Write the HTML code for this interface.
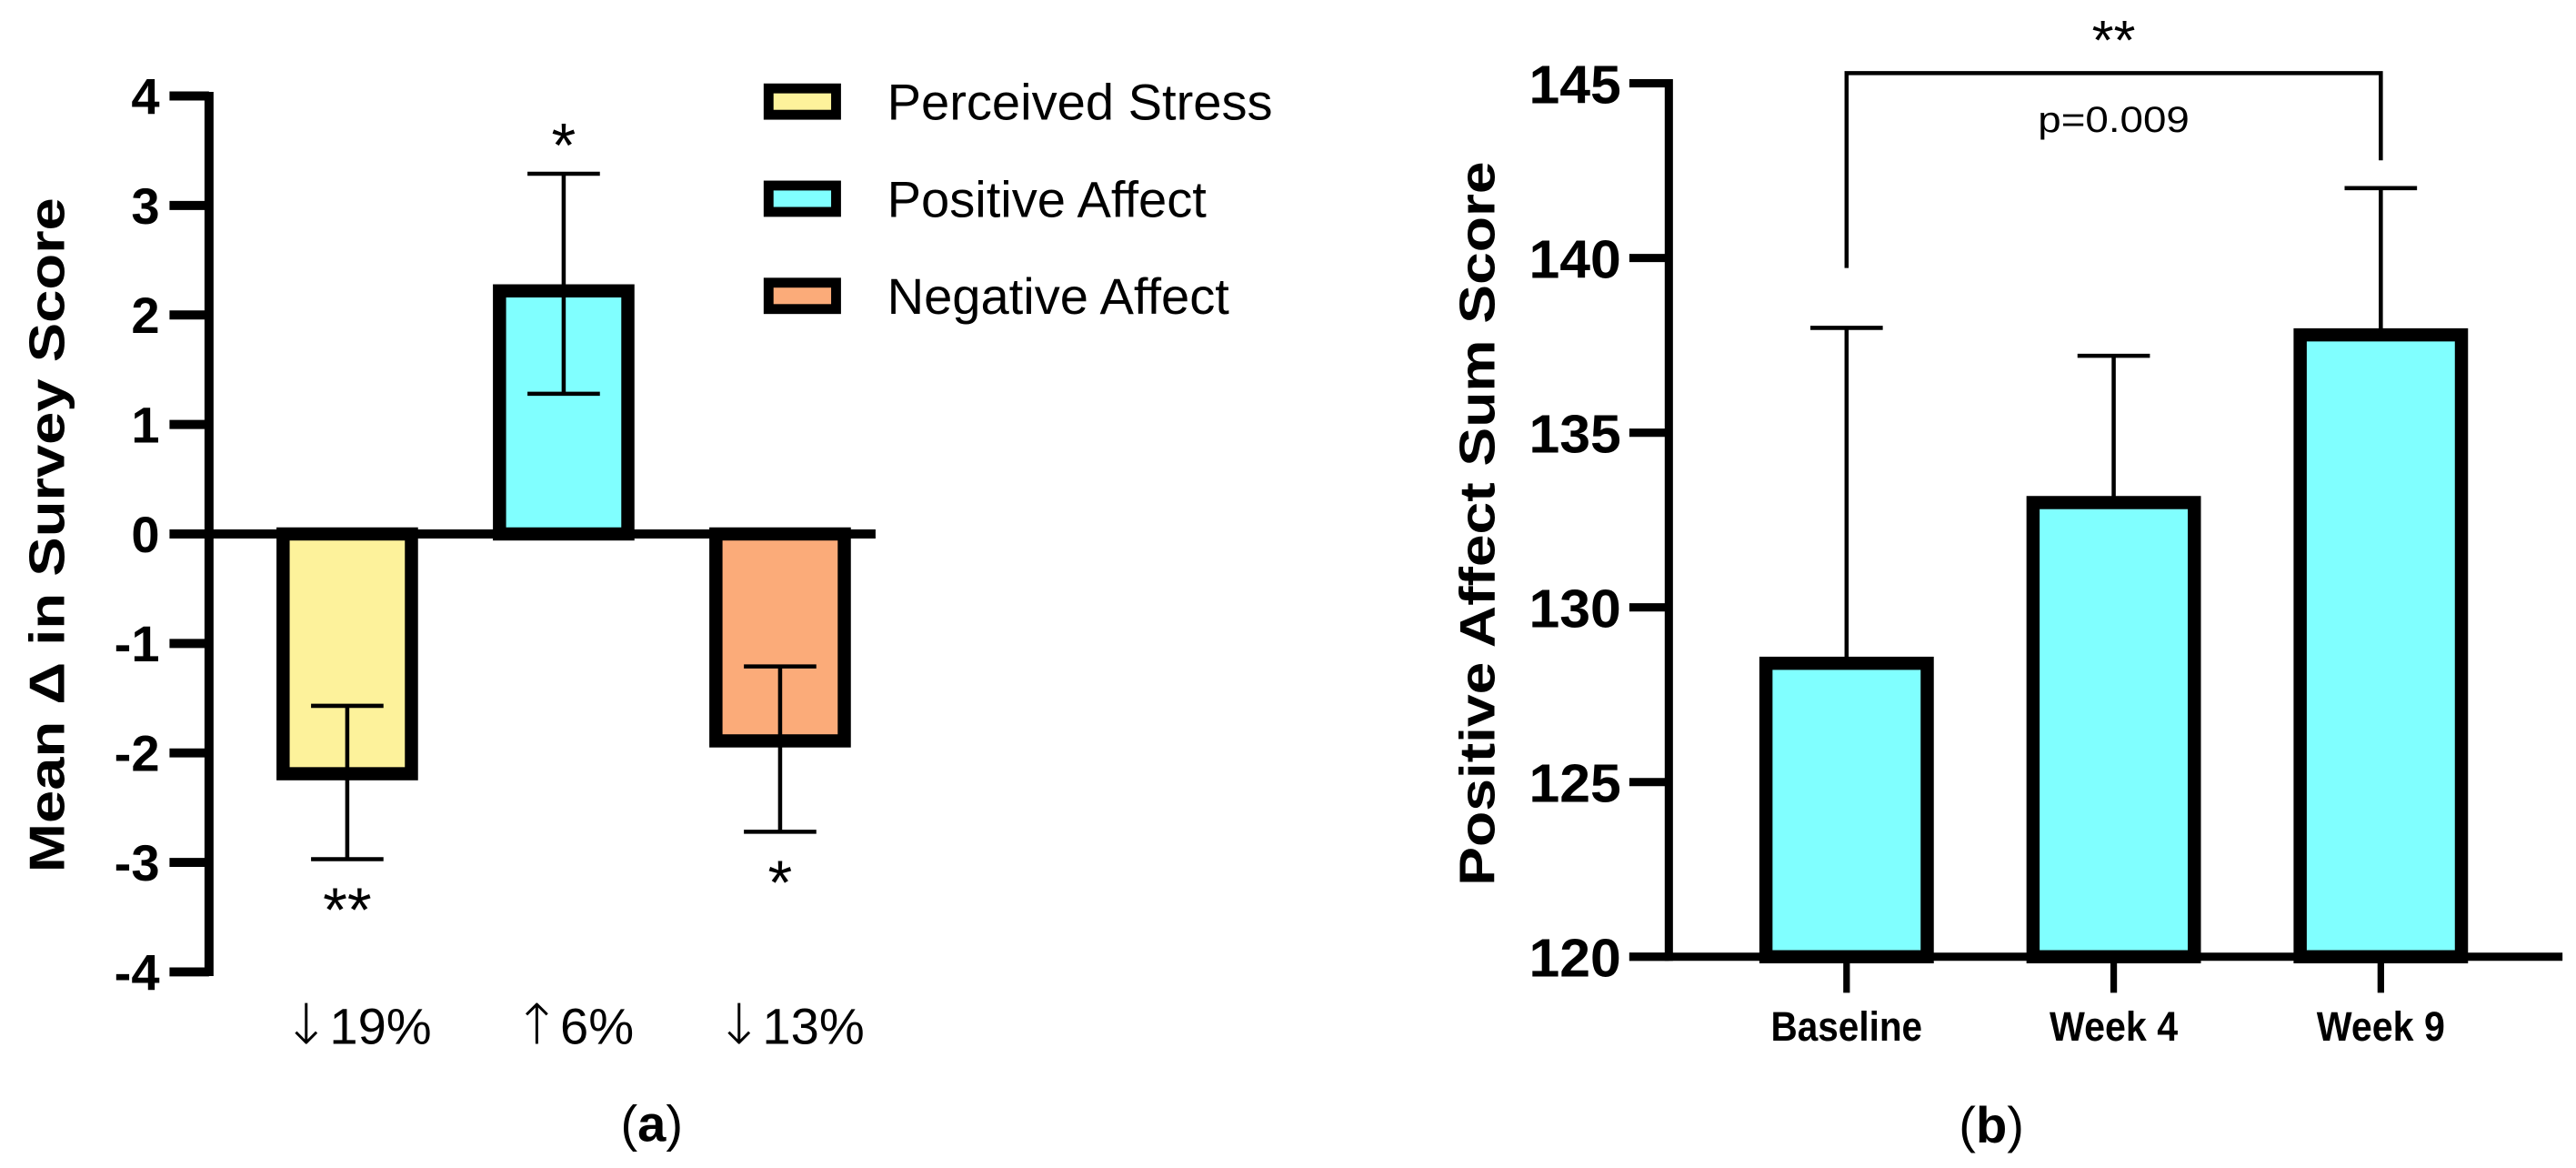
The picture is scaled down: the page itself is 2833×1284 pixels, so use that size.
<!DOCTYPE html>
<html><head><meta charset="utf-8"><style>
html,body{margin:0;padding:0;background:#fff;}
svg{display:block;}
text{font-family:"Liberation Sans",Arial,sans-serif;}
</style></head><body>
<svg id="fig" width="2833" height="1284" viewBox="0 0 1565.2 709.4" preserveAspectRatio="none" xmlns="http://www.w3.org/2000/svg"></svg>
<script>
// ---- Panel (a) data ----
const aCategories = ["Perceived Stress","Positive Affect","Negative Affect"];
const aMeans = [-2.19, 2.22, -1.89];
const aErrHigh = [-1.57, 3.29, -1.21];
const aErrLow = [-2.97, 1.28, -2.72];
const aColors = ["#fdf29b","#80ffff","#fbab79"];
const aSig = ["**","*","*"];
const aArrows = ["\u2193","\u2191","\u2193"];
const aXLabels = ["19%","6%","13%"];
const aTicks = [4,3,2,1,0,-1,-2,-3,-4];
// ---- Panel (b) data ----
const bCategories = ["Baseline","Week 4","Week 9"];
const bMeans = [128.4, 133.0, 137.8];
const bErrTop = [138.0, 137.2, 142.0];
const bTicks = [145,140,135,130,125,120];

const svg = document.getElementById('fig');
const NS = "http://www.w3.org/2000/svg";
function mk(tag, attrs, parent){
  const e = document.createElementNS(NS, tag);
  for (const k in attrs) e.setAttribute(k, attrs[k]);
  (parent||svg).appendChild(e);
  return e;
}
const ayScale = v => 324.3 - v*66.5;
const axCenter = i => 211 + i*131.5;
const byScale = v => 50.6 + (145 - v)*21.22;
const bxCenter = i => 1122 + i*162.3;

// ---- Panel (a) ----
const ga = mk('g', {});


aTicks.forEach(t => {
  const l = mk('line', {x1:103, x2:127, y1:ayScale(t), y2:ayScale(t), stroke:'#000','stroke-width':5.5}, ga);
  
  
  const tx = mk('text', {x:97, y:ayScale(t)+11, 'text-anchor':'end','font-size':31,'font-weight':'bold'}, ga);
  tx.textContent = t;
  
  
});
aMeans.forEach((m,i) => {
  const cx = axCenter(i), w = 78;
  const y0 = ayScale(0), y1 = ayScale(m);
  const r = mk('rect', {x:cx-w/2, y:Math.min(y0,y1), width:w, height:Math.abs(y1-y0), fill:aColors[i], stroke:'#000','stroke-width':8}, ga);
  
  
  const hi = ayScale(aErrHigh[i]), lo = ayScale(aErrLow[i]);
  const eb = mk('path', {d:`M${cx},${hi}V${lo}M${cx-22},${hi}H${cx+22}M${cx-22},${lo}H${cx+22}`, stroke:'#000','stroke-width':2.5, fill:'none'}, ga);
  
  
  const sy = m > 0 ? hi - 4 : lo + 44;
  const s = mk('text', {x:cx, y:sy, 'text-anchor':'middle','font-size':38,'font-family':'DejaVu Sans, sans-serif'}, ga);
  s.textContent = aSig[i];
  
  
  const xl = mk('text', {x:cx+6, y:634, 'text-anchor':'middle','font-size':31}, ga);
  xl.innerHTML = '<tspan font-family="DejaVu Sans, sans-serif" font-size="34" font-weight="200">' + aArrows[i] + '</tspan>' + aXLabels[i];
  
  
});
const ya = mk('line', {x1:127, x2:127, y1:ayScale(4)-2.5, y2:ayScale(-4)+2.5, stroke:'#000','stroke-width':5.5}, ga);


const za = mk('line', {x1:127, x2:532, y1:ayScale(0), y2:ayScale(0), stroke:'#000','stroke-width':5.5}, ga);


const yta = mk('text', {x:0, y:0, transform:'translate(39,325) rotate(-90)', 'text-anchor':'middle','font-size':30,'font-weight':'bold', textLength:410, lengthAdjust:'spacingAndGlyphs'}, ga);
yta.textContent = 'Mean \u0394 in Survey Score';


aCategories.forEach((c,i) => {
  const cy = 61.7 + i*59;
  const g = mk('g', {}, ga);
  
  
  mk('rect', {x:467, y:cy-8, width:41, height:16, fill:aColors[i], stroke:'#000','stroke-width':6}, g);
  const t = mk('text', {x:539, y:cy+11, 'font-size':31}, g);
  t.textContent = c;
});
const pa = mk('text', {x:396, y:693, 'text-anchor':'middle','font-size':31,'font-family':'Liberation Serif, serif'}, ga);
pa.innerHTML = '(<tspan font-weight="bold">a</tspan>)';



// ---- Panel (b) ----
const gb = mk('g', {});


bTicks.forEach(t => {
  const l = mk('line', {x1:990, x2:1014, y1:byScale(t), y2:byScale(t), stroke:'#000','stroke-width':5}, gb);
  
  
  const tx = mk('text', {x:985, y:byScale(t)+12, 'text-anchor':'end','font-size':33,'font-weight':'bold', textLength:56, lengthAdjust:'spacingAndGlyphs'}, gb);
  tx.textContent = t;
  
  
});
const bLabelW = [92, 78, 78];
bMeans.forEach((m,i) => {
  const cx = bxCenter(i), w = 98;
  const y0 = byScale(120), y1 = byScale(m);
  const hi = byScale(bErrTop[i]);
  const eb = mk('path', {d:`M${cx},${y1}V${hi}M${cx-22},${hi}H${cx+22}`, stroke:'#000','stroke-width':2.5, fill:'none'}, gb);
  
  
  const r = mk('rect', {x:cx-w/2, y:y1, width:w, height:y0-y1, fill:'#80ffff', stroke:'#000','stroke-width':8}, gb);
  
  
  const tk = mk('line', {x1:cx, x2:cx, y1:y0, y2:603, stroke:'#000','stroke-width':4}, gb);
  
  
  const xl = mk('text', {x:cx, y:632, 'text-anchor':'middle','font-size':25,'font-weight':'bold', textLength:bLabelW[i], lengthAdjust:'spacingAndGlyphs'}, gb);
  xl.textContent = bCategories[i];
  
  
});
const yb = mk('line', {x1:1014, x2:1014, y1:byScale(145)-2.5, y2:byScale(120)+2.5, stroke:'#000','stroke-width':5}, gb);


const xb = mk('line', {x1:990, x2:1557, y1:byScale(120), y2:byScale(120), stroke:'#000','stroke-width':5}, gb);


const br = mk('path', {d:`M${bxCenter(0)},162.8V44.4H${bxCenter(2)}V97.4`, stroke:'#000','stroke-width':2.5, fill:'none'}, gb);


const st = mk('text', {x:(bxCenter(0)+bxCenter(2))/2, y:36, 'text-anchor':'middle','font-size':34,'font-family':'DejaVu Sans, sans-serif'}, gb);
st.textContent = '**';


const pv = mk('text', {x:bxCenter(1), y:80, 'text-anchor':'middle','font-size':22, textLength:92, lengthAdjust:'spacingAndGlyphs'}, gb);
pv.textContent = 'p=0.009';


const ytb = mk('text', {x:0, y:0, transform:'translate(908,318) rotate(-90)', 'text-anchor':'middle','font-size':30,'font-weight':'bold', textLength:440, lengthAdjust:'spacingAndGlyphs'}, gb);
ytb.textContent = 'Positive Affect Sum Score';


const pb = mk('text', {x:1210, y:694, 'text-anchor':'middle','font-size':31,'font-family':'Liberation Serif, serif'}, gb);
pb.innerHTML = '(<tspan font-weight="bold">b</tspan>)';


</script>
</body></html>
